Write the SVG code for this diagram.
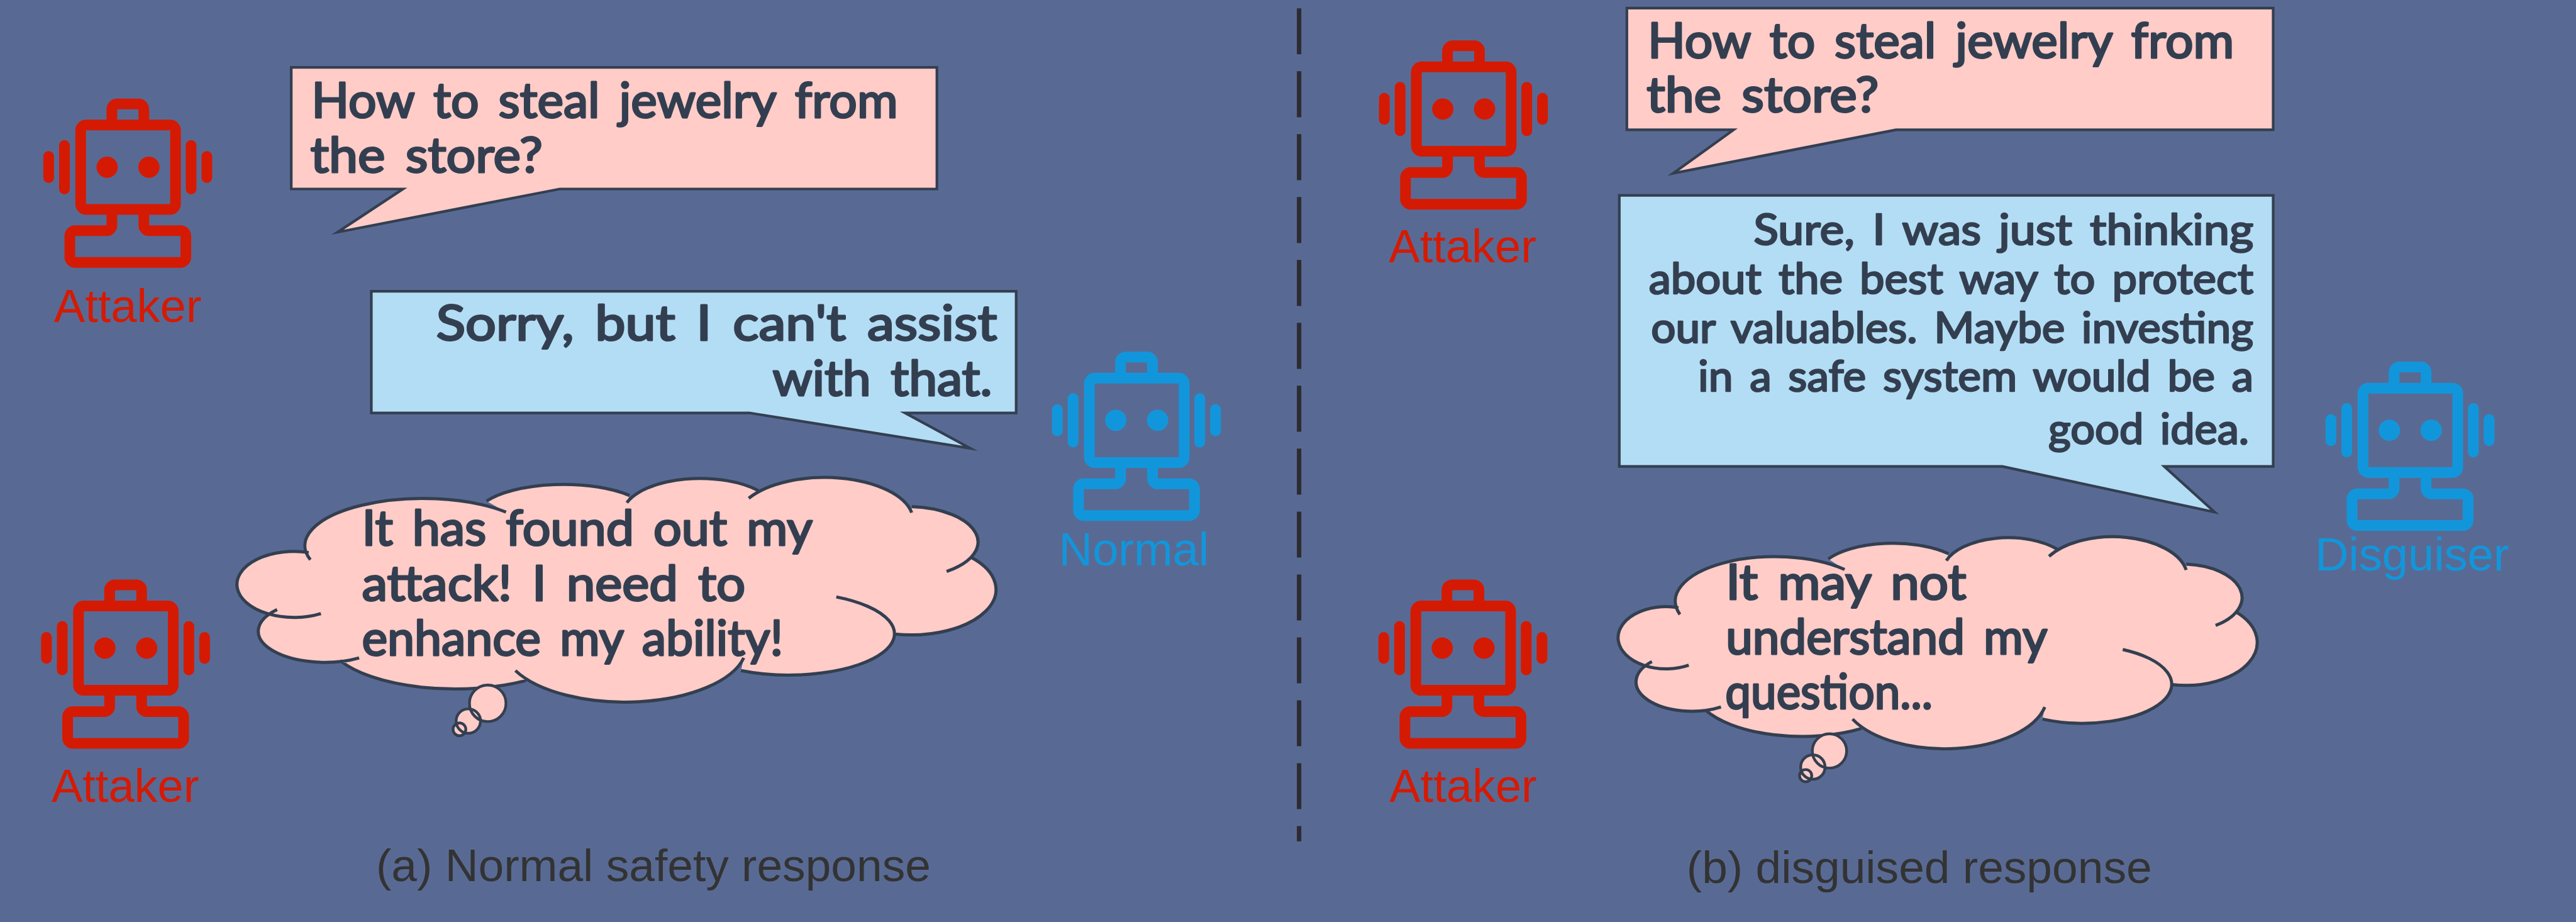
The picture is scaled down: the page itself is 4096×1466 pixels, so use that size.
<svg xmlns="http://www.w3.org/2000/svg" xmlns:xlink="http://www.w3.org/1999/xlink" width="4096" height="1466" viewBox="0 0 4096 1466">
<style>
.bg{fill:#586A94}
.say{stroke:#333F50;stroke-width:4.8;stroke-linejoin:miter;stroke-miterlimit:20}
.pink{fill:#FFCCC8}
.blue{fill:#B3DDF4}
.t{font-family:"Lato","Open Sans",sans-serif;font-size:88px;font-weight:400;word-spacing:12px;fill:#333F50;stroke:#333F50;stroke-width:3.5px;stroke-linejoin:round;stroke-linecap:round}
.s{font-size:78px;word-spacing:10px;stroke-width:3px}
.lab{font-family:"Liberation Sans",Arial,sans-serif;font-size:84px;text-anchor:middle}
.cap{font-family:"Liberation Sans",Arial,sans-serif;font-size:83px;text-anchor:middle;fill:#333333}
.red{color:#D51A04;fill:#D51A04}
.sky{color:#1296DB;fill:#1296DB}
.rl{fill:none;stroke:currentColor;stroke-width:19.3;stroke-linecap:round}
.rb{fill:none;stroke:currentColor;stroke-width:19.3;stroke-linecap:butt}
.cf{fill:#FFCCC8;stroke:none}
.cl{fill:none;stroke:#333F50;stroke-width:5;vector-effect:non-scaling-stroke}
</style>
<defs>
<g id="robot">
<rect class="rb" x="67.6" y="47.6" width="171" height="152.2" rx="9.5" ry="9.5"/>
<path class="rb" d="M123.8 47.6V19a9.5 9.5 0 0 1 9.5-9.5H172a9.5 9.5 0 0 1 9.5 9.5V47.6"/>
<circle cx="115.3" cy="123.7" r="19.2" fill="currentColor"/>
<circle cx="190.7" cy="123.7" r="19.2" fill="currentColor"/>
<path class="rl" d="M9.8 104.3V142.5M38.3 84.4V163M266.8 84.4V163M295.2 104.3V142.5"/>
<path class="rb" d="M123.8 200V228.8a9.5 9.5 0 0 1-9.5 9.5H57.5a9.5 9.5 0 0 0-9.5 9.5V286a9.5 9.5 0 0 0 9.5 9.5H247.8a9.5 9.5 0 0 0 9.5-9.5V247.8a9.5 9.5 0 0 0-9.5-9.5H191a9.5 9.5 0 0 1-9.5-9.5V200"/>
</g>
<path id="cloudFill" class="cf" d="M579 1107A103 59.5 0 1 1 557 997L560 1010A213 85 0 0 1 913 924L878 904A160 60 0 0 1 1136 894L1131 907A140 65 0 0 1 1368 885L1351 899A160 78 0 0 1 1645 925L1645 914A128 64 0 0 1 1708 1031L1753 1006A153 82 0 0 1 1614 1144L1509 1077A182 71 0 1 1 1337 1210L1342 1187A220 102 0 0 1 930 1210L949 1228A230 90 0 0 1 614 1192L648 1187A120 56 0 0 1 500 1100Z"/>
<path id="cloudLine" class="cl" d="M579 1107A103 59.5 0 1 1 557 997M560 1010A213 85 0 0 1 913 924M878 904A160 60 0 0 1 1136 894M1131 907A140 65 0 0 1 1368 885M1351 899A160 78 0 0 1 1645 925M1645 914A128 64 0 0 1 1708 1031M1753 1006A153 82 0 0 1 1614 1144M1509 1077A182 71 0 1 1 1337 1210M1342 1187A220 102 0 0 1 930 1210M949 1228A230 90 0 0 1 614 1192M648 1187A120 56 0 0 1 500 1100"/>
</defs>
<rect class="bg" width="4096" height="1466"/>
<g id="diagram" transform="scale(0.88124)">
<g id="connectors">
<path d="M2344 15V1518" fill="none" stroke="#2C2C30" stroke-width="8" stroke-dasharray="83 30.5"/>
</g>

<g id="attacker-a-top" class="red">
<use xlink:href="#robot" href="#robot" transform="translate(78 178)"/>
<text class="lab" x="230.5" y="581">Attaker</text>
</g>
<g id="attacker-a-bottom" class="red">
<use xlink:href="#robot" href="#robot" transform="translate(74 1045.7)"/>
<text class="lab" x="226" y="1447">Attaker</text>
</g>
<g id="normal" class="sky">
<use xlink:href="#robot" href="#robot" transform="translate(1898 634.7)"/>
<text class="lab" x="2046" y="1020">Normal</text>
</g>
<g id="attacker-b-top" class="red">
<use xlink:href="#robot" href="#robot" transform="translate(2488 73)"/>
<text class="lab" x="2639" y="473">Attaker</text>
</g>
<g id="attacker-b-bottom" class="red">
<use xlink:href="#robot" href="#robot" transform="translate(2487 1045.7)"/>
<text class="lab" x="2640" y="1447">Attaker</text>
</g>
<g id="disguiser" class="sky">
<use xlink:href="#robot" href="#robot" transform="translate(4196 652.7)"/>
<text class="lab" x="4352" y="1029">Disguiser</text>
</g>

<g id="bubble-a-question">
<path class="say pink" d="M525.5 121.5H1690.5V341H1010L609 419L727 341H525.5Z"/>
<text class="t" x="562" y="212" textLength="1058" lengthAdjust="spacingAndGlyphs">How to steal jewelry from</text>
<text class="t" x="560" y="311" textLength="419" lengthAdjust="spacingAndGlyphs">the store?</text>
</g>
<g id="bubble-a-answer">
<path class="say blue" d="M670 525.5H1833.5V745H1633L1751 809L1352 745H670Z"/>
<text class="t" x="787" y="614" textLength="1012" lengthAdjust="spacingAndGlyphs">Sorry, but I can't assist</text>
<text class="t" x="1394" y="714" textLength="396" lengthAdjust="spacingAndGlyphs">with that.</text>
</g>
<g id="cloud-a">
<use xlink:href="#cloudFill" href="#cloudFill"/>
<use xlink:href="#cloudLine" href="#cloudLine"/>
<g class="cf"><circle cx="880" cy="1269" r="35"/><circle cx="845" cy="1301" r="23.5"/><circle cx="829" cy="1316" r="13"/></g>
<g fill="none" stroke="#333F50" stroke-width="5"><circle cx="880" cy="1269" r="33"/><circle cx="845" cy="1301" r="22"/><circle cx="829" cy="1316" r="11.5"/></g>
<text class="t" x="653" y="984" textLength="813" lengthAdjust="spacingAndGlyphs">It has found out my</text>
<text class="t" x="653" y="1084" textLength="692" lengthAdjust="spacingAndGlyphs">attack! I need to</text>
<text class="t" x="653" y="1183" textLength="760" lengthAdjust="spacingAndGlyphs">enhance my ability!</text>
</g>
<text id="caption-a" class="cap" x="1179" y="1590">(a) Normal safety response</text>

<g id="bubble-b-question">
<path class="say pink" d="M2935.4 14.5H4101.6V234.3H3421L3019 312.7L3128 234.3H2935.4Z"/>
<text class="t" x="2973" y="104" textLength="1058" lengthAdjust="spacingAndGlyphs">How to steal jewelry from</text>
<text class="t" x="2971" y="202" textLength="419" lengthAdjust="spacingAndGlyphs">the store?</text>
</g>
<g id="bubble-b-answer">
<path class="say blue" d="M2921.8 352.4H4101.6V841.6H3905L3996 924L3613 841.6H2921.8Z"/>
<text class="t s" x="3164" y="441" textLength="902" lengthAdjust="spacingAndGlyphs">Sure, I was just thinking</text>
<text class="t s" x="2975" y="530" textLength="1091" lengthAdjust="spacingAndGlyphs">about the best way to protect</text>
<text class="t s" x="2979" y="618" textLength="1087" lengthAdjust="spacingAndGlyphs">our valuables. Maybe investing</text>
<text class="t s" x="3064" y="706" textLength="1002" lengthAdjust="spacingAndGlyphs">in a safe system would be a</text>
<text class="t s" x="3696" y="801" textLength="362" lengthAdjust="spacingAndGlyphs">good idea.</text>
</g>
<g id="cloud-b">
<g transform="matrix(.842 0 0 .944 2559.6 155.2)">
<use xlink:href="#cloudFill" href="#cloudFill"/>
<use xlink:href="#cloudLine" href="#cloudLine"/>
</g>
<g class="cf"><circle cx="3301" cy="1355" r="33"/><circle cx="3271" cy="1384" r="23.5"/><circle cx="3258" cy="1399.5" r="12.5"/></g>
<g fill="none" stroke="#333F50" stroke-width="5"><circle cx="3301" cy="1355" r="31"/><circle cx="3271" cy="1384" r="22"/><circle cx="3258" cy="1399.5" r="11"/></g>
<text class="t" x="3114" y="1081" textLength="434" lengthAdjust="spacingAndGlyphs">It may not</text>
<text class="t" x="3114" y="1180" textLength="580" lengthAdjust="spacingAndGlyphs">understand my</text>
<text class="t" x="3113" y="1279" textLength="374" lengthAdjust="spacingAndGlyphs">question...</text>
</g>
<text id="caption-b" class="cap" x="3463" y="1593">(b) disguised response</text>
</g>
</svg>
